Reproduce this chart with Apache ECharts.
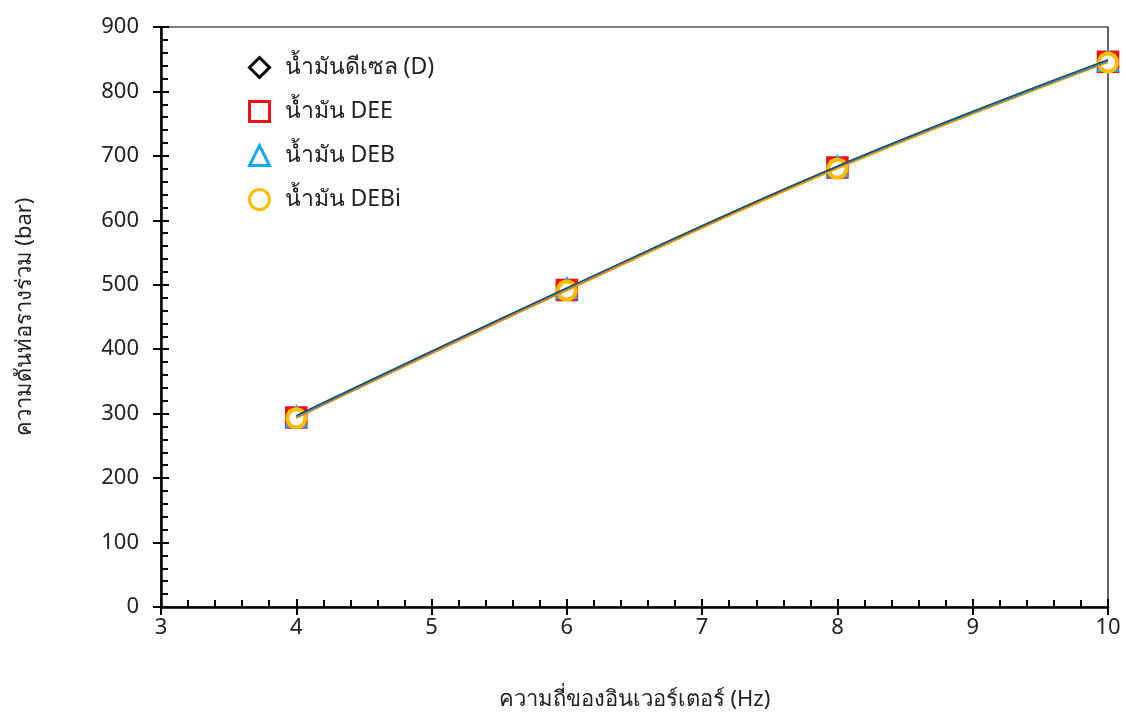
<!DOCTYPE html>
<html>
<head>
<meta charset="utf-8">
<script src="https://cdn.jsdelivr.net/npm/echarts@6/dist/echarts.min.js"></script>
<style>
  html, body { margin: 0; padding: 0; background: #fff; }
  #chart { width: 1126px; height: 714px; }
</style>
</head>
<body>
<div id="chart"></div>
<script>
// Inverter frequency (Hz)
const frequency = [4, 6, 8, 10];

// Common-rail pressure (bar) per fuel
const dieselD = [297, 495, 684, 849];
const fuelDEE = [294, 492, 682, 846];
const fuelDEB = [295, 494, 683, 847];
const fuelDEBi = [293, 491, 680, 845];

const seriesNames = ['น้ำมันดีเซล (D)', 'น้ำมัน DEE', 'น้ำมัน DEB', 'น้ำมัน DEBi'];
const seriesData = [dieselD, fuelDEE, fuelDEB, fuelDEBi];
const seriesColors = ['#000000', '#ee1111', '#11aaee', '#ffbb00'];
const trendColors = ['#1f4e5a', '#f07c1a', '#2e8fd6', '#f5b400'];
const trendOrder = [13, 11, 12, 10];
const symbols = ['diamond', 'rect', 'triangle', 'circle'];
const symbolSizes = [13, 19, 18, 18];

const FONT = '"Noto Sans", "DejaVu Sans", sans-serif';

const pairs = d => frequency.map((f, i) => [f, d[i]]);

const scatterSeries = seriesNames.map((name, i) => ({
  name,
  type: 'scatter',
  data: pairs(seriesData[i]),
  symbol: symbols[i],
  symbolSize: symbolSizes[i],
  z: 2 + i,
  itemStyle: {
    color: '#ffffff',
    borderColor: seriesColors[i],
    borderWidth: i === 3 ? 4 : 3.5,
    opacity: 1
  }
}));

const trendSeries = seriesNames.map((name, i) => ({
  name: name + ' trend',
  type: 'line',
  data: pairs(seriesData[i]),
  smooth: 0.4,
  showSymbol: false,
  silent: true,
  z: trendOrder[i],
  lineStyle: { color: trendColors[i], width: 1.6 }
}));

const tickStyle = { color: '#000', width: 2 };

const chart = echarts.init(document.getElementById('chart'), null, { renderer: 'canvas' });
chart.setOption({
  animation: false,
  backgroundColor: '#ffffff',
  grid: {
    left: 161, top: 27, right: 18, bottom: 107,
    outerBoundsMode: 'none',
    show: true, borderColor: '#000', borderWidth: 1.2
  },
  legend: {
    data: seriesNames.map((name, i) => ({
      name,
      icon: symbols[i],
      itemStyle: { color: '#ffffff', borderColor: seriesColors[i], borderWidth: 3 }
    })),
    orient: 'vertical',
    left: 243,
    top: 51,
    itemGap: 21,
    itemWidth: 20,
    itemHeight: 20,
    textStyle: { fontSize: 23, color: '#222', fontFamily: FONT, padding: [0, 0, 0, 10] }
  },
  xAxis: [{
    type: 'value',
    min: 3,
    max: 10,
    interval: 1,
    name: 'ความถี่ของอินเวอร์เตอร์ (Hz)',
    nameLocation: 'middle',
    nameGap: 82,
    nameTextStyle: { fontSize: 22, color: '#222', fontFamily: FONT },
    axisLine: { lineStyle: { color: '#000', width: 2.5 } },
    axisTick: { inside: true, length: 8, lineStyle: tickStyle },
    minorTick: { show: true, splitNumber: 5, length: 7, lineStyle: tickStyle },
    axisLabel: { fontSize: 22, color: '#222', margin: 10, fontFamily: FONT },
    splitLine: { show: false }
  }, {
    // outer half of the major ticks
    type: 'value',
    position: 'bottom',
    min: 3,
    max: 10,
    interval: 1,
    axisLine: { show: false },
    axisTick: { inside: false, length: 8, lineStyle: tickStyle },
    axisLabel: { show: false },
    splitLine: { show: false }
  }],
  yAxis: [{
    type: 'value',
    min: 0,
    max: 900,
    interval: 100,
    name: 'ความดันท่อรางร่วม (bar)',
    nameLocation: 'middle',
    nameGap: 125,
    nameTextStyle: { fontSize: 22, color: '#222', fontFamily: FONT },
    axisLine: { show: true, lineStyle: { color: '#000', width: 2.5 } },
    axisTick: { inside: true, length: 8, lineStyle: tickStyle },
    minorTick: { show: true, splitNumber: 5, length: 7, lineStyle: tickStyle },
    axisLabel: { fontSize: 22, color: '#222', margin: 22, fontFamily: FONT },
    splitLine: { show: false }
  }, {
    type: 'value',
    position: 'left',
    min: 0,
    max: 900,
    interval: 100,
    axisLine: { show: false },
    axisTick: { show: true, inside: false, length: 8, lineStyle: tickStyle },
    axisLabel: { show: false },
    splitLine: { show: false }
  }],
  series: [...scatterSeries, ...trendSeries]
});
</script>
</body>
</html>
